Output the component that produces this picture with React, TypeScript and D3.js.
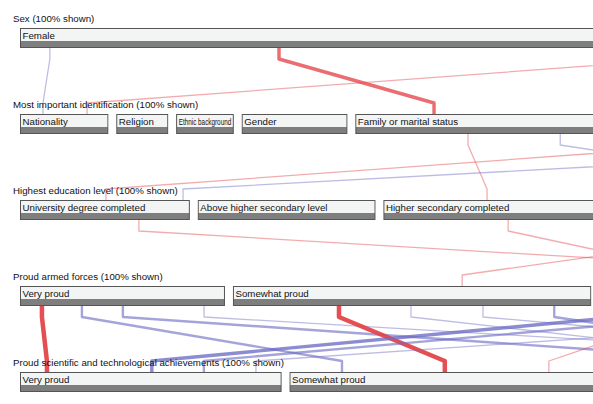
import React, { useEffect, useRef } from "react";
import * as d3 from "d3";

// dimensions, top to bottom
const dimensions = [
  "Sex",
  "Most important identification",
  "Highest education level",
  "Proud armed forces",
  "Proud scientific and technological achievements",
];

// categories and respondent counts per dimension (right-hand ones fall outside the view)
const sexCategories = ["Female", "Male"];
const sexCounts = [700, 300];

const identCategories = ["Nationality", "Religion", "Ethnic background", "Gender", "Family or marital status", "Other"];
const identCounts = [92, 54, 60, 110, 416, 268];

const educationCategories = ["University degree completed", "Above higher secondary level", "Higher secondary completed", "Lower secondary or less"];
const educationCounts = [174, 182, 338, 306];

const armedCategories = ["Very proud", "Somewhat proud", "Not very proud", "Not proud at all"];
const armedCounts = [210, 367, 256, 167];

const scienceCategories = ["Very proud", "Somewhat proud", "Not very proud", "Not proud at all"];
const scienceCounts = [268, 410, 205, 117];

// links: [from dimension, from category, position in category, to category, position in category, weight, tone]
const links: [number, string, number, string, number, number, string][] = [
  [0, "Female", 0.043, "Nationality", 0.26, 1, "blue"],
  [0, "Female", 0.373, "Family or marital status", 0.197, 3, "red"],
  [0, "Female", 0.956, "Nationality", 0.76, 1, "red"],
  [1, "Family or marital status", 0.282, "Higher secondary completed", 0.314, 1, "red"],
  [1, "Family or marital status", 0.513, "Lower secondary or less", 0.43, 1, "blue"],
  [1, "Family or marital status", 0.886, "University degree completed", 0.506, 1, "red"],
  [1, "Other", 0.9, "University degree completed", 0.96, 1, "blue"],
  [2, "University degree completed", 0.7, "Not proud at all", 0.14, 1, "red"],
  [2, "Higher secondary completed", 0.378, "Not very proud", 0.455, 1, "red"],
  [2, "Lower secondary or less", 0.18, "Somewhat proud", 0.64, 1, "red"],
  [3, "Very proud", 0.107, "Very proud", 0.103, 4, "red"],
  [3, "Very proud", 0.302, "Somewhat proud", 0.131, 2, "blue"],
  [3, "Very proud", 0.502, "Not very proud", 0.31, 2, "blue"],
  [3, "Very proud", 0.898, "Not proud at all", 0.39, 1, "blue"],
  [3, "Somewhat proud", 0.296, "Somewhat proud", 0.388, 4, "red"],
  [3, "Somewhat proud", 0.497, "Not very proud", 0.51, 1, "blue"],
  [3, "Somewhat proud", 0.698, "Not proud at all", 0.65, 1, "blue"],
  [3, "Somewhat proud", 0.897, "Not very proud", 0.76, 2, "blue"],
  [3, "Not very proud", 0.083, "Very proud", 0.504, 3, "blue"],
  [3, "Not very proud", 0.403, "Very proud", 0.703, 2, "blue"],
  [3, "Not proud at all", 0.26, "Very proud", 0.902, 1, "blue"],
  [3, "Not very proud", 0.315, "Somewhat proud", 0.648, 1, "red"],
];

const W = 593;
const H = 404;

const ParallelSets = () => {
  const svgRef = useRef<SVGSVGElement>(null);

  useEffect(() => {
    const svg = d3.select(svgRef.current);
    svg.selectAll("*").remove();

    const left = 20;
    const fullWidth = 1000; // sets run off the right edge
    const gap = 8;
    const barH = 20;
    const lightH = 13;
    const elbow = 11;

    const dims = [
      { cats: sexCategories, counts: sexCounts },
      { cats: identCategories, counts: identCounts },
      { cats: educationCategories, counts: educationCounts },
      { cats: armedCategories, counts: armedCounts },
      { cats: scienceCategories, counts: scienceCounts },
    ];

    const y = d3.scaleLinear().domain([0, dimensions.length - 1]).range([28, 372]);

    // lay out each dimension's category boxes
    const layout = dims.map((dim, di) => {
      const total = d3.sum(dim.counts);
      const x = d3
        .scaleLinear()
        .domain([0, total])
        .range([0, fullWidth - gap * (dim.cats.length - 1)]);
      let acc = 0;
      return dim.cats.map((name, i) => {
        const x0 = left + x(acc) + i * gap;
        acc += dim.counts[i];
        const x1 = left + x(acc) + i * gap;
        return { name, x0, x1, top: y(di), dim: di };
      });
    });

    const find = (di: number, name: string) => layout[di].find((c) => c.name === name)!;

    const colour = d3.scaleOrdinal<string>().domain(["red", "blue"]).range(["#e3464b", "#6c6cc4"]);
    const strokeW = d3.scaleLinear().domain([1, 4]).range([1.3, 4.5]);
    const opacity = d3.scaleLinear().domain([1, 4]).range([0.45, 0.95]);

    const line = d3.line<[number, number]>();

    // links
    svg
      .append("g")
      .attr("fill", "none")
      .selectAll("path")
      .data(links)
      .enter()
      .append("path")
      .attr("d", (d) => {
        const s = find(d[0], d[1]);
        const t = find(d[0] + 1, d[3]);
        const sx = s.x0 + (s.x1 - s.x0) * d[2];
        const tx = t.x0 + (t.x1 - t.x0) * d[4];
        const sy = s.top + barH;
        const ty = t.top;
        return line([
          [sx, sy],
          [sx, sy + elbow],
          [tx, ty - elbow],
          [tx, ty],
        ]);
      })
      .attr("stroke", (d) => colour(d[6]))
      .attr("stroke-width", (d) => strokeW(d[5]))
      .attr("stroke-opacity", (d) => opacity(d[5]))
      .attr("stroke-linejoin", "round");

    // dimension titles
    svg
      .append("g")
      .selectAll("text")
      .data(dimensions)
      .enter()
      .append("text")
      .attr("x", 13)
      .attr("y", (d, i) => y(i) - 6)
      .attr("font-family", "Liberation Sans, Arial, sans-serif")
      .attr("font-size", "9.7px")
      .attr("fill", "#111")
      .text((d) => `${d} (100% shown)`);

    // category boxes
    const boxes = svg
      .append("g")
      .selectAll("g")
      .data(layout.flat().filter((c) => c.x0 < W))
      .enter()
      .append("g")
      .attr("transform", (d) => `translate(${d.x0},${d.top})`);

    boxes
      .append("rect")
      .attr("x", 0.5)
      .attr("y", 0.5)
      .attr("width", (d) => d.x1 - d.x0 - 1)
      .attr("height", barH - 1)
      .attr("fill", "#7e7e7e")
      .attr("stroke", "#555")
      .attr("stroke-width", 1);

    boxes
      .append("rect")
      .attr("x", 1)
      .attr("y", 1)
      .attr("width", (d) => d.x1 - d.x0 - 2)
      .attr("height", lightH - 1)
      .attr("fill", "#f3f5f5");

    // squeeze labels that are wider than their box
    boxes
      .append("text")
      .attr("font-family", "Liberation Sans, Arial, sans-serif")
      .attr("font-size", "9.7px")
      .attr("fill", "#111")
      .text((d) => d.name)
      .each(function (d) {
        const room = d.x1 - d.x0 - 5;
        const el = this as SVGTextElement;
        const len = el.getComputedTextLength();
        const k = len > room ? room / len : 1;
        el.setAttribute("transform", `translate(2.5,10.5) scale(${k},1)`);
      });
  }, []);

  return (
    <svg
      ref={svgRef}
      width={W}
      height={H}
      style={{ position: "absolute", left: 0, top: 0, background: "#fff" }}
    ></svg>
  );
};

export default function App() {
  return <ParallelSets />;
}
